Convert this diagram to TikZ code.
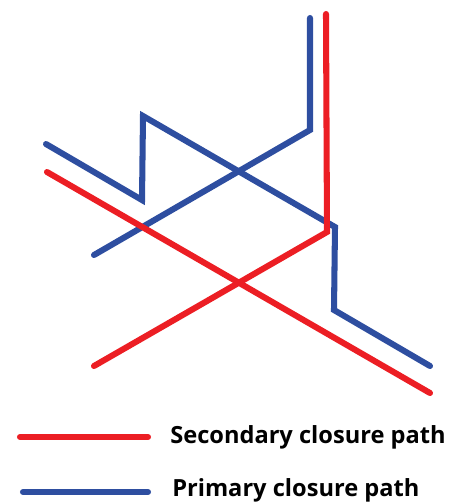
\documentclass[tikz,border=0pt]{standalone}
\usepackage{fontspec}
\setmainfont{Open Sans}
\usepackage{xcolor}
\usetikzlibrary{positioning}

\definecolor{secred}{RGB}{236,30,36}
\definecolor{primblue}{RGB}{46,78,160}

\begin{document}
\begin{tikzpicture}[x=0.025cm, y=-0.025cm,
  pathline/.style={line width=4.3pt, line cap=round, line join=miter},
  legtext/.style={anchor=west, inner sep=0pt, font=\bfseries\fontsize{16.8}{18}\selectfont}]
  \useasboundingbox (0,0) rectangle (462,502);

  % Primary closure path (blue)
  \draw[pathline, primblue] (46,144) -- (142,200) -- (143,116) -- (335,227)
    -- (334,310) -- (430,366);
  \draw[pathline, primblue] (94,255) -- (310,130) -- (310,18);

  % Secondary closure path (red)
  \draw[pathline, secred] (47,172) -- (430,393);
  \draw[pathline, secred] (94,366) -- (327,232) -- (326,14);

  % Legend
  \coordinate (sec a) at (20,437);
  \coordinate (sec b) at (148,437);
  \draw[pathline, secred] (sec a) -- (sec b);
  \node[legtext] (sec text) at (170,437) {Secondary closure path};

  \coordinate (prim a) at (23,492);
  \coordinate (prim b) at (148,492);
  \draw[pathline, primblue] (prim a) -- (prim b);
  \node[legtext] (prim text) at (172,490) {Primary closure path};
\end{tikzpicture}
\end{document}
